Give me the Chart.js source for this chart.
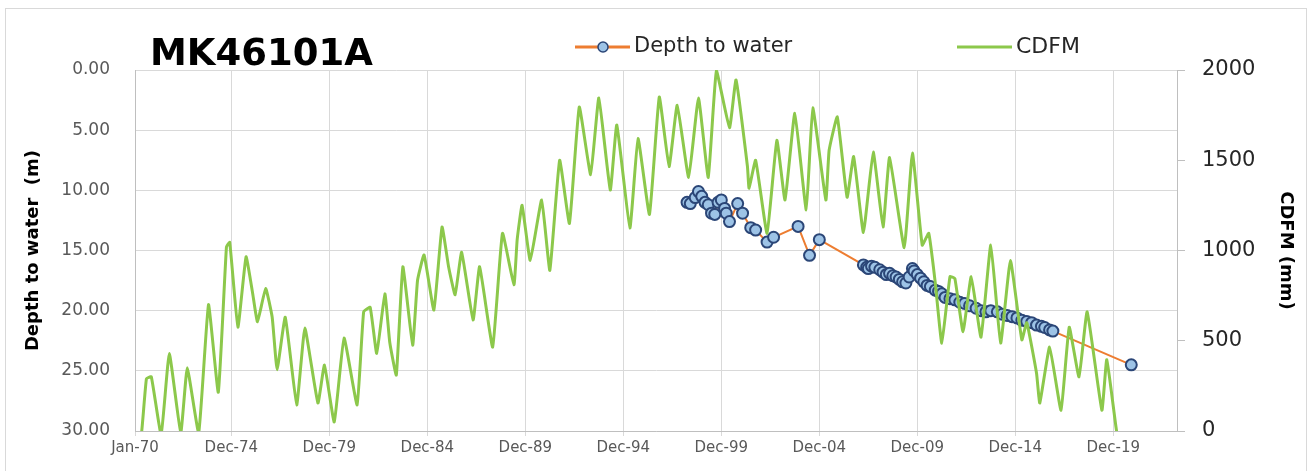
<!DOCTYPE html>
<html><head><meta charset="utf-8">
<script src="https://cdn.jsdelivr.net/npm/chart.js@4.4.1/dist/chart.umd.min.js"></script>
<style>html,body{margin:0;padding:0;background:#fff;overflow:hidden}canvas{display:block}</style>
</head><body>
<canvas id="c" width="1312" height="471"></canvas>
<script>
// ---- data (x = months since Jan-1970) ----
const chartTitle = 'MK46101A';
const seriesNames = ['Depth to water', 'CDFM'];
const leftAxisTitle = 'Depth to water  (m)';
const rightAxisTitle = 'CDFM (mm)';
const xTickMonths = [0, 59, 119, 179, 239, 299, 359, 419, 479, 539, 599];
const xTickLabels = ['Jan-70', 'Dec-74', 'Dec-79', 'Dec-84', 'Dec-89', 'Dec-94', 'Dec-99', 'Dec-04', 'Dec-09', 'Dec-14', 'Dec-19'];

const depthMonths = [338, 340, 343, 345, 347, 349, 351, 353, 355, 357, 359, 361, 362, 364, 369, 372, 377, 380, 387, 391, 406, 413, 419,
  446, 448, 449, 451, 453, 456, 458, 460, 462, 464, 466, 468, 470, 472, 474, 476, 477, 479, 481, 483, 485, 487, 490, 492, 494, 496,
  499, 502, 505, 508, 511, 515, 518, 521, 524, 528, 531, 534, 537, 540, 543, 546, 549, 552, 555, 557, 560, 562, 610];
const depthValues = [11.0, 11.1, 10.6, 10.1, 10.5, 11.0, 11.2, 11.9, 12.0, 11.0, 10.8, 11.5, 11.9, 12.6, 11.1, 11.9, 13.1, 13.3, 14.3, 13.9, 13.0, 15.4, 14.1,
  16.2, 16.4, 16.5, 16.3, 16.4, 16.6, 16.8, 17.0, 16.9, 17.1, 17.2, 17.4, 17.6, 17.7, 17.2, 16.5, 16.7, 17.0, 17.3, 17.6, 17.9, 18.0, 18.3, 18.4, 18.6, 18.9,
  19.0, 19.1, 19.3, 19.4, 19.6, 19.8, 20.0, 20.1, 20.0, 20.1, 20.3, 20.4, 20.5, 20.6, 20.8, 20.9, 21.0, 21.2, 21.3, 21.4, 21.6, 21.7, 24.5];

const cdfmMonths = [0, 4, 7, 10, 16, 21, 28, 32, 39, 45, 51, 56, 58, 63, 68, 72, 75, 80, 84, 87, 92, 99, 104, 112, 116, 122, 128, 136, 140, 144,
  148, 153, 156, 160, 164, 170, 173, 177, 183, 188, 192, 196, 200, 207, 211, 219, 225, 232, 234, 237, 242, 249, 254, 260, 266, 272, 279, 284, 291, 295,
  303, 308, 315, 321, 327, 332, 339, 345, 351, 356, 364, 368, 375, 376, 380, 387, 393, 398, 404, 411, 415, 423, 425, 430, 436, 440, 446, 452, 458, 462,
  471, 476, 482, 486, 490, 494, 499, 502, 507, 512, 518, 524, 530, 536, 543, 546, 552, 554, 560, 567, 572, 578, 583, 592, 595, 601, 603];
const cdfmValues = [-150, -10, 290, 300, -20, 430, -10, 350, -10, 700, 215, 1020, 1045, 575, 965, 765, 605, 790, 630, 340, 630, 145, 570, 155, 365, 50, 515, 145, 660, 685,
  430, 760, 490, 310, 910, 475, 835, 975, 670, 1130, 910, 755, 990, 615, 910, 465, 1095, 810, 1060, 1250, 945, 1280, 890, 1500, 1150, 1795, 1420, 1845, 1335, 1695,
  1125, 1620, 1200, 1850, 1465, 1805, 1405, 1845, 1405, 1995, 1680, 1945, 1465, 1345, 1500, 1095, 1610, 1280, 1760, 1225, 1790, 1280, 1555, 1740, 1295, 1520, 1100, 1545, 1130, 1515,
  1015, 1540, 1030, 1095, 820, 487, 855, 845, 550, 855, 520, 1030, 487, 945, 505, 600, 320, 155, 465, 115, 575, 300, 660, 115, 395, 0, -40];

// ---- styles ----
const FONT = 'DejaVu Sans';
const GREEN = '#8CC84B', ORANGE = '#ED7D31', MK_FILL = '#9DC3E6', MK_EDGE = '#2B4677';

const overlay = {
  id: 'overlay',
  beforeDraw(c) {
    const g = c.ctx; g.save();
    g.strokeStyle = '#d9d9d9'; g.lineWidth = 1; g.strokeRect(5.5, 8.5, 1301, 480);
    g.restore();
  },
  afterDraw(c) {
    const g = c.ctx; g.save();
    g.fillStyle = '#000'; g.font = 'bold 37px "' + FONT + '"'; g.textBaseline = 'alphabetic';
    g.fillText(chartTitle, 150, 65);
    const ly = 47;
    g.strokeStyle = ORANGE; g.lineWidth = 3;
    g.beginPath(); g.moveTo(575, ly); g.lineTo(630, ly); g.stroke();
    g.beginPath(); g.arc(603, ly, 5, 0, Math.PI * 2); g.fillStyle = MK_FILL; g.fill();
    g.strokeStyle = MK_EDGE; g.lineWidth = 1.5; g.stroke();
    g.strokeStyle = GREEN; g.lineWidth = 3;
    g.beginPath(); g.moveTo(957, ly); g.lineTo(1012, ly); g.stroke();
    g.fillStyle = '#262626'; g.font = '21px "' + FONT + '"'; g.textBaseline = 'middle';
    g.fillText(seriesNames[0], 634, ly);
    g.font = '22px "' + FONT + '"';
    g.fillText(seriesNames[1], 1016, ly);
    g.restore();
  }
};

new Chart(document.getElementById('c'), {
  type: 'line',
  data: {
    datasets: [
      { label: seriesNames[1], data: cdfmMonths.map((m, i) => ({ x: m, y: cdfmValues[i] })), yAxisID: 'y2',
        borderColor: GREEN, borderWidth: 3, pointRadius: 0, tension: 0.12, fill: false },
      { label: seriesNames[0], data: depthMonths.map((m, i) => ({ x: m, y: depthValues[i] })), yAxisID: 'y',
        borderColor: ORANGE, borderWidth: 2, pointRadius: 5.5, pointBackgroundColor: MK_FILL,
        pointBorderColor: MK_EDGE, pointBorderWidth: 2, tension: 0, fill: false }
    ]
  },
  options: {
    responsive: false, animation: false, devicePixelRatio: 1,
    layout: { padding: { left: 21, right: 12, top: 70, bottom: 0 } },
    plugins: { legend: { display: false }, title: { display: false }, tooltip: { enabled: false } },
    scales: {
      x: {
        type: 'linear', position: 'bottom', min: 0, max: 638,
        afterBuildTicks: s => { s.ticks = xTickMonths.map(v => ({ value: v })); },
        afterFit: s => { s.height = 40; },
        ticks: { callback: (v, i) => xTickLabels[i], font: { family: FONT, size: 15 }, color: '#595959', padding: 3, maxRotation: 0, autoSkip: false },
        grid: { color: '#d9d9d9', lineWidth: 1, tickLength: 5 },
        border: { color: '#bfbfbf' }
      },
      y: {
        position: 'left', min: 0, max: 30, reverse: true,
        afterFit: s => { s.width = 114; },
        ticks: { stepSize: 5, callback: v => Number(v).toFixed(2), font: { family: FONT, size: 17 }, color: '#595959', padding: 25 },
        grid: { color: '#d9d9d9', drawTicks: false },
        border: { color: '#bfbfbf' },
        title: { display: true, text: leftAxisTitle, font: { family: FONT, size: 18, weight: 'bold' }, color: '#000', padding: { top: 2, bottom: 2 } }
      },
      y2: {
        position: 'right', min: 0, max: 2000,
        afterFit: s => { s.width = 123; },
        ticks: { stepSize: 500, callback: v => String(v), font: { family: FONT, size: 21 }, color: '#262626', padding: 17 },
        grid: { drawOnChartArea: false, tickLength: 8, color: '#bfbfbf' },
        border: { color: '#bfbfbf' },
        title: { display: true, text: rightAxisTitle, font: { family: FONT, size: 18, weight: 'bold' }, color: '#000', padding: { top: 4, bottom: 4 } }
      }
    }
  },
  plugins: [overlay]
});
</script>
</body></html>
